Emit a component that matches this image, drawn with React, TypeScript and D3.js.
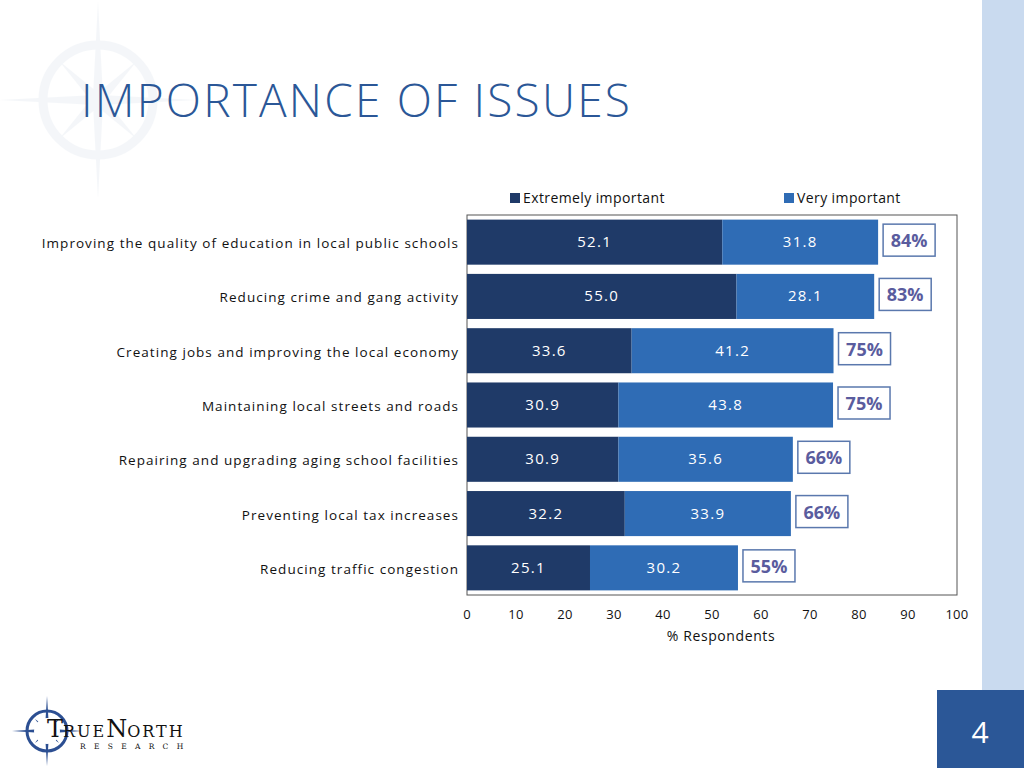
import React from "react";
import * as d3 from "d3";

const categories = [
  "Improving the quality of education in local public schools",
  "Reducing crime and gang activity",
  "Creating jobs and improving the local economy",
  "Maintaining local streets and roads",
  "Repairing and upgrading aging school facilities",
  "Preventing local tax increases",
  "Reducing traffic congestion",
];
const extremelyImportant = [52.1, 55.0, 33.6, 30.9, 30.9, 32.2, 25.1];
const veryImportant = [31.8, 28.1, 41.2, 43.8, 35.6, 33.9, 30.2];
const totals = ["84%", "83%", "75%", "75%", "66%", "66%", "55%"];
const seriesNames = ["Extremely important", "Very important"];
const xTicks = [0, 10, 20, 30, 40, 50, 60, 70, 80, 90, 100];

const DARK = "#1f3a68";
const LIGHT = "#2f6cb5";
const TITLE = "#2b5797";
const FONT = "'Open Sans', 'DejaVu Sans', sans-serif";

function starPath(cx: number, cy: number, longR: number, shortR: number, inner: number) {
  const pts: [number, number][] = [];
  for (let i = 0; i < 16; i++) {
    const ang = (i * Math.PI) / 8 - Math.PI / 2;
    let r: number;
    if (i % 2 === 1) r = inner;
    else if (i % 4 === 0) r = longR;
    else r = shortR;
    pts.push([cx + r * Math.cos(ang), cy + r * Math.sin(ang)]);
  }
  return "M" + pts.map((p) => p.join(",")).join("L") + "Z";
}

export default function App() {
  const width = 1024;
  const height = 768;
  const x = d3.scaleLinear().domain([0, 100]).range([467, 957]);
  const y = d3
    .scaleBand<string>()
    .domain(categories)
    .range([215, 595])
    .paddingInner(0.17)
    .paddingOuter(0.085);
  const bw = y.bandwidth();

  return (
    <svg
      width={width}
      height={height}
      style={{ position: "absolute", left: 0, top: 0, background: "#fff" }}
      fontFamily={FONT}
    >
      {/* watermark compass */}
      <g opacity={0.07}>
        <circle cx={98} cy={100} r={55} fill="none" stroke="#6f8fb8" strokeWidth={9} />
        <path d={starPath(98, 100, 98, 55, 12)} fill="#6f8fb8" />
      </g>

      {/* right stripe */}
      <rect x={982} y={0} width={42} height={768} fill="#c9daef" />
      <rect x={937} y={690} width={87} height={78} fill="#2b5797" />
      <text x={980} y={743} fill="#fff" fontSize={30} textAnchor="middle" fontFamily={FONT}>
        4
      </text>

      {/* title */}
      <text x={81} y={117} fill={TITLE} fontSize={46} letterSpacing={2.2} fontFamily={FONT} fontWeight={300}>
        IMPORTANCE OF ISSUES
      </text>

      {/* legend */}
      <g fontSize={14} fill="#111">
        <rect x={510} y={193} width={10} height={10} fill={DARK} />
        <text x={523} y={203} letterSpacing={0.4}>{seriesNames[0]}</text>
        <rect x={784} y={193} width={10} height={10} fill={LIGHT} />
        <text x={797} y={203} letterSpacing={0.4}>{seriesNames[1]}</text>
      </g>

      {/* plot border */}
      <rect x={467} y={215} width={490} height={380} fill="none" stroke="#555" strokeWidth={1} />

      {/* bars */}
      {categories.map((c, i) => {
        const y0 = y(c)!;
        const e = extremelyImportant[i];
        const v = veryImportant[i];
        const xEnd = x(e + v);
        const cy = y0 + bw / 2;
        return (
          <g key={c}>
            <rect x={x(0)} y={y0} width={x(e) - x(0)} height={bw} fill={DARK} />
            <rect x={x(e)} y={y0} width={x(e + v) - x(e)} height={bw} fill={LIGHT} />
            <text
              x={(x(0) + x(e)) / 2}
              y={cy - 1}
              fill="#fff"
              fontSize={15}
              textAnchor="middle"
              dominantBaseline="central"
              letterSpacing={1.3}
            >
              {e.toFixed(1)}
            </text>
            <text
              x={(x(e) + x(e + v)) / 2}
              y={cy - 1}
              fill="#fff"
              fontSize={15}
              textAnchor="middle"
              dominantBaseline="central"
              letterSpacing={1.3}
            >
              {v.toFixed(1)}
            </text>
            <rect
              x={xEnd + 5}
              y={cy - 18}
              width={52}
              height={32}
              fill="#fff"
              stroke="#5a78ad"
              strokeWidth={1.5}
            />
            <text
              x={xEnd + 31}
              y={cy - 2}
              fill="#5a5c9e"
              fontSize={18}
              fontWeight={700}
              textAnchor="middle"
              dominantBaseline="central"
            >
              {totals[i]}
            </text>
            <text
              x={459}
              y={cy + 1}
              fill="#111"
              fontSize={13.5}
              textAnchor="end"
              dominantBaseline="central"
              letterSpacing={1.05}
            >
              {c}
            </text>
          </g>
        );
      })}

      {/* x axis labels */}
      {xTicks.map((t) => (
        <text key={t} x={x(t)} y={619} fontSize={13} textAnchor="middle" fill="#111" letterSpacing={0.3}>
          {t}
        </text>
      ))}
      <text x={721} y={641} fontSize={14} textAnchor="middle" fill="#111" letterSpacing={0.6}>
        % Respondents
      </text>

      {/* logo */}
      <g>
        <circle cx={47} cy={731} r={20} fill="none" stroke="#2c4f92" strokeWidth={3} />
        <path d={starPath(47, 731, 35, 17, 5)} fill="#2c4f92" />
        <circle cx={47} cy={731} r={13} fill="#fff" />
        <text x={47} y={737} fontFamily="'DejaVu Serif', 'Liberation Serif', serif" fill="#111">
          <tspan fontSize={24}>T</tspan>
          <tspan fontSize={16} letterSpacing={2}>RUE</tspan>
          <tspan fontSize={24}>N</tspan>
          <tspan fontSize={16} letterSpacing={2}>ORTH</tspan>
        </text>
        <text x={80} y={749} fontFamily="'DejaVu Serif', 'Liberation Serif', serif" fontSize={7.5} fill="#111" letterSpacing={8.3}>
          RESEARCH
        </text>
      </g>
    </svg>
  );
}
